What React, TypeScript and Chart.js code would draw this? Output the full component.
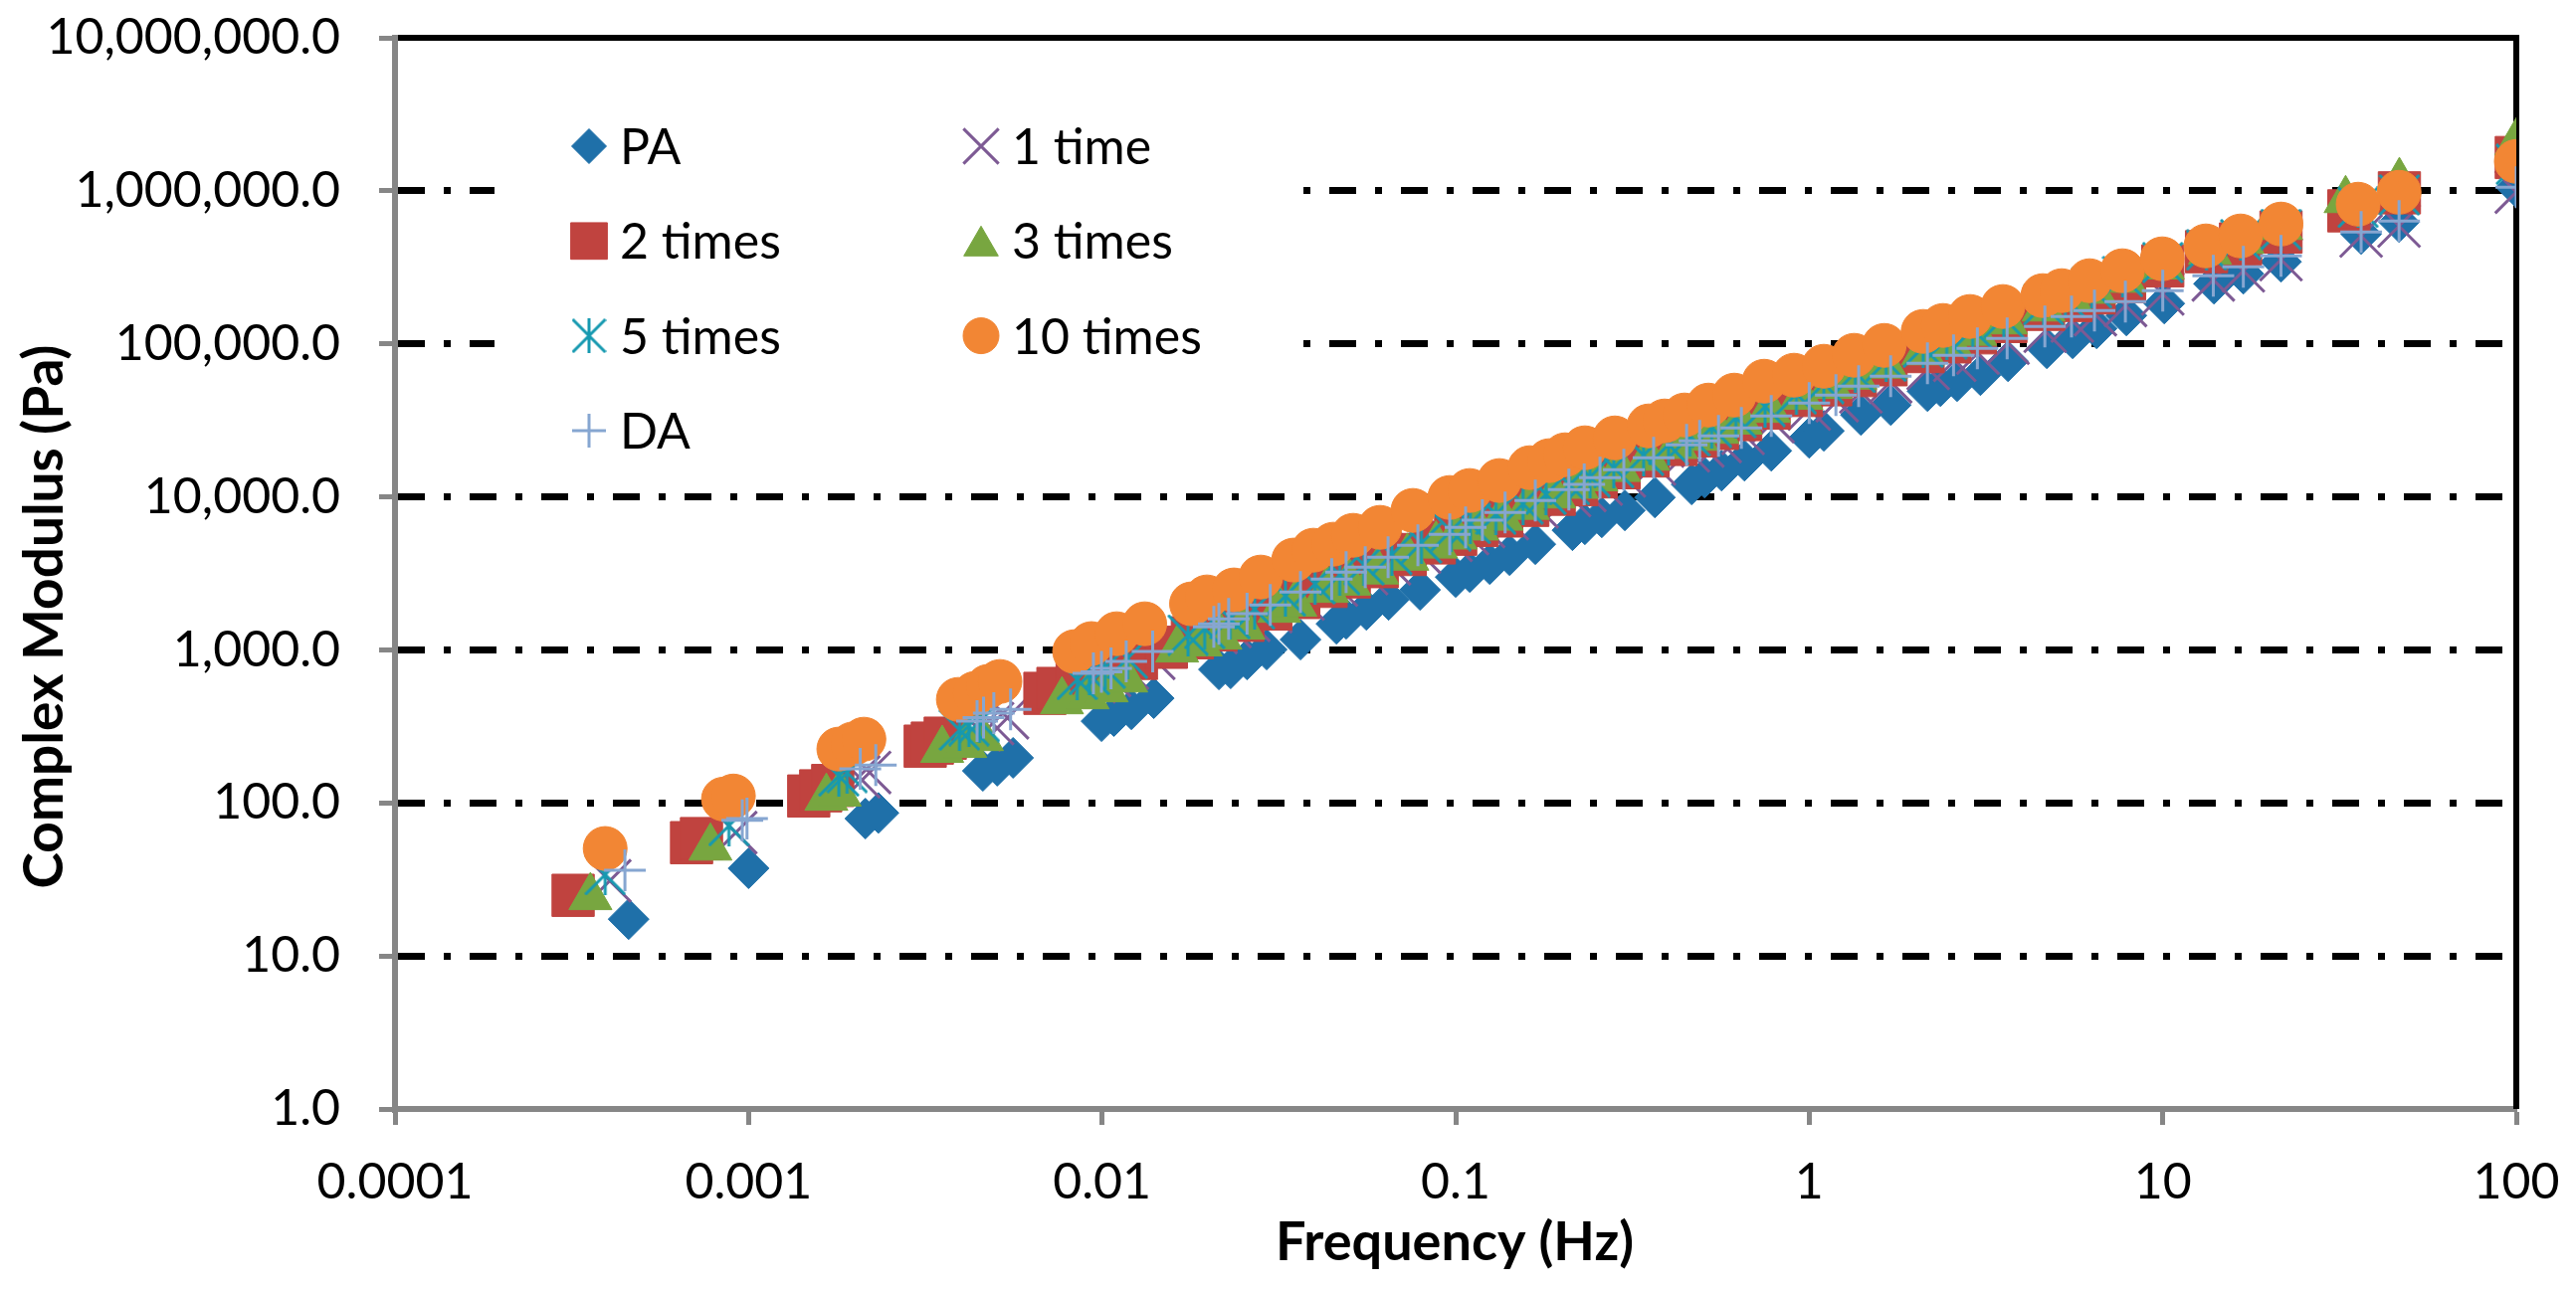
import { useEffect, useRef } from 'react';
import { Chart, registerables } from 'chart.js';
import { drawPoint } from 'chart.js/helpers';

Chart.register(...registerables);

// frequency (Hz) / complex modulus (Pa), one pair per series
const paFreq = [0.000458, 0.001, 0.00214, 0.00233, 0.0046, 0.00505, 0.0056, 0.00996, 0.0108, 0.0121, 0.014, 0.0214, 0.0231, 0.0257, 0.0292, 0.0364, 0.046, 0.049, 0.0559, 0.0646, 0.0793, 0.1, 0.1096, 0.1248, 0.142, 0.168, 0.214, 0.232, 0.259, 0.301, 0.366, 0.465, 0.506, 0.565, 0.656, 0.781, 1.0, 1.1, 1.4, 1.7, 2.16, 2.35, 2.62, 3.05, 3.65, 4.7, 5.56, 6.5, 7.89, 10.1, 13.96, 16.9, 21.6, 36.4, 46.6, 100];
const paG = [17.4, 37.4, 79, 86, 162, 175, 197, 342, 369, 409, 483, 745, 757, 865, 1005, 1167, 1482, 1597, 1827, 2122, 2466, 2993, 3228, 3638, 4162, 4908, 6052, 6620, 7350, 8160, 9910, 12050, 13370, 14850, 17230, 20000, 24300, 27000, 34300, 39800, 49100, 52900, 57000, 62400, 76900, 93500, 108600, 126200, 153200, 183400, 247000, 287000, 343600, 522000, 625000, 1055000];

const oneFreq = [0.000405, 0.00092, 0.00205, 0.0022, 0.0045, 0.0049, 0.0054, 0.0095, 0.0105, 0.0118, 0.014, 0.021, 0.023, 0.026, 0.03, 0.037, 0.046, 0.056, 0.065, 0.079, 0.097, 0.108, 0.12, 0.14, 0.17, 0.21, 0.232, 0.258, 0.3, 0.365, 0.455, 0.5, 0.56, 0.65, 0.79, 1.0, 1.2, 1.4, 1.7, 2.17, 2.58, 3.0, 3.65, 4.65, 5.55, 6.45, 7.85, 10.0, 13.9, 16.9, 21.6, 36.4, 46.6, 100];
const oneG = [31, 64, 148, 158, 300, 330, 360, 620, 680, 760, 880, 1300, 1420, 1560, 1780, 2150, 2650, 3150, 3650, 4350, 5200, 5750, 6400, 7200, 8600, 10200, 11000, 12100, 13700, 16400, 20000, 21500, 23000, 26000, 31000, 37500, 42500, 48500, 56500, 69000, 78000, 87000, 101000, 121000, 141000, 155000, 178000, 212000, 262000, 300000, 355000, 507000, 589000, 980000];

const twoFreq = [0.000319, 0.00069, 0.000736, 0.00148, 0.0016, 0.00173, 0.00316, 0.00331, 0.0036, 0.00689, 0.0075, 0.0085, 0.0098, 0.0125, 0.0152, 0.018, 0.021, 0.025, 0.03, 0.036, 0.043, 0.05, 0.06, 0.072, 0.087, 0.1, 0.115, 0.135, 0.16, 0.19, 0.22, 0.25, 0.29, 0.35, 0.42, 0.48, 0.55, 0.64, 0.77, 0.95, 1.15, 1.35, 1.65, 2.1, 2.5, 2.95, 3.6, 4.6, 5.5, 6.4, 7.8, 10.0, 13.3, 16.6, 21.6, 33.6, 46.7, 100];
const twoG = [24.9, 55, 58.5, 111, 120, 130, 235, 246, 265, 520, 560, 640, 700, 880, 1040, 1200, 1350, 1560, 1850, 2200, 2600, 3000, 3500, 4200, 5000, 5700, 6500, 7500, 8800, 10400, 12000, 13500, 15500, 18500, 22000, 25000, 28000, 32000, 38000, 46000, 54000, 62000, 73000, 89000, 103000, 118000, 140000, 168000, 192000, 215000, 255000, 323000, 400000, 450000, 538000, 740000, 970000, 1650000];

const threeFreq = [0.000357, 0.00078, 0.00166, 0.00181, 0.00353, 0.0041, 0.00457, 0.0077, 0.0091, 0.0103, 0.0117, 0.0163, 0.019, 0.0216, 0.0251, 0.0317, 0.0352, 0.0433, 0.05, 0.06, 0.073, 0.088, 0.1, 0.115, 0.135, 0.16, 0.19, 0.22, 0.25, 0.29, 0.35, 0.42, 0.48, 0.55, 0.64, 0.77, 0.95, 1.15, 1.35, 1.65, 2.1, 2.5, 2.95, 3.6, 4.6, 5.5, 6.4, 7.8, 10.0, 13.6, 16.8, 21.6, 32.9, 46.7, 100];
const threeG = [24.2, 51, 108, 115, 222, 239, 265, 461, 497, 552, 640, 1005, 1100, 1220, 1417, 1827, 2000, 2466, 2750, 3250, 4000, 4800, 5500, 6300, 7300, 8600, 10200, 11800, 13200, 15200, 18000, 21500, 24300, 27000, 31000, 37000, 45000, 53000, 61000, 72000, 88000, 102000, 118000, 140000, 170000, 196000, 222000, 262000, 320000, 400000, 470000, 580000, 869000, 1140000, 2070000];

const fiveFreq = [0.000393, 0.00088, 0.0018, 0.0019, 0.00395, 0.0042, 0.0045, 0.0085, 0.0092, 0.0102, 0.0118, 0.0175, 0.0195, 0.023, 0.027, 0.033, 0.04, 0.047, 0.055, 0.066, 0.08, 0.097, 0.11, 0.13, 0.155, 0.18, 0.21, 0.24, 0.28, 0.34, 0.4, 0.46, 0.53, 0.62, 0.75, 0.92, 1.1, 1.35, 1.65, 2.1, 2.45, 2.9, 3.55, 4.6, 5.3, 6.3, 7.7, 10.0, 13.3, 16.6, 21.6, 35.7, 46.7, 100];
const fiveG = [34, 71, 150, 158, 300, 320, 340, 640, 690, 760, 880, 1250, 1380, 1600, 1850, 2250, 2700, 3100, 3600, 4200, 5000, 6000, 6700, 7700, 9000, 10400, 12000, 13500, 15500, 18700, 22000, 25000, 28500, 33000, 39000, 47000, 55000, 65000, 77000, 95000, 108000, 125000, 148000, 180000, 200000, 232000, 275000, 340000, 410000, 480000, 560000, 780000, 940000, 1490000];

const tenFreq = [0.000393, 0.000849, 0.000906, 0.0018, 0.00197, 0.00212, 0.00392, 0.00437, 0.00476, 0.00514, 0.00836, 0.00933, 0.011, 0.0132, 0.0179, 0.0198, 0.0236, 0.0281, 0.0348, 0.0396, 0.0451, 0.0513, 0.0611, 0.0757, 0.0962, 0.1096, 0.133, 0.162, 0.184, 0.204, 0.232, 0.282, 0.352, 0.39, 0.444, 0.519, 0.614, 0.746, 0.906, 1.1, 1.34, 1.63, 2.1, 2.39, 2.85, 3.53, 4.58, 5.18, 6.21, 7.69, 9.97, 13.25, 16.6, 21.6, 35.7, 46.6, 100];
const tenG = [50.4, 106, 111, 225, 243, 261, 475, 520, 578, 622, 975, 1100, 1276, 1482, 2000, 2220, 2466, 2993, 3864, 4484, 4908, 5610, 6325, 8160, 9910, 11010, 12790, 15520, 17250, 18850, 20940, 24300, 29100, 31350, 34300, 39800, 46240, 57000, 62400, 71400, 84200, 97700, 120600, 131900, 151000, 175400, 206700, 222700, 258700, 300600, 359700, 436700, 507200, 606700, 818000, 979000, 1557000];

const daFreq = [0.000447, 0.00096, 0.00099, 0.00207, 0.00229, 0.00443, 0.00462, 0.00494, 0.00551, 0.00945, 0.00996, 0.0106, 0.0117, 0.0139, 0.0207, 0.0214, 0.0228, 0.0257, 0.0299, 0.0364, 0.0446, 0.049, 0.0555, 0.0644, 0.0782, 0.0962, 0.1067, 0.119, 0.138, 0.168, 0.209, 0.231, 0.256, 0.299, 0.363, 0.45, 0.49, 0.554, 0.643, 0.781, 1.0, 1.19, 1.38, 1.7, 2.16, 2.56, 2.99, 3.63, 4.64, 5.52, 6.41, 7.84, 10.0, 13.9, 16.9, 21.6, 36.4, 46.6, 100];
const daG = [36.3, 77, 79, 167, 177, 342, 361, 386, 409, 702, 718, 757, 840, 975, 1417, 1482, 1597, 1722, 1968, 2391, 2904, 3228, 3477, 4036, 4834, 5700, 6325, 7030, 7920, 9480, 11170, 12050, 13370, 15070, 18030, 21880, 23230, 25050, 28250, 33800, 41050, 46240, 52900, 61500, 74700, 84200, 93500, 108600, 130000, 151000, 165200, 188800, 222700, 278500, 319000, 375800, 538000, 634000, 1055000];

const xTicks = [0.0001, 0.001, 0.01, 0.1, 1, 10, 100];
const xTickLabels = ['0.0001', '0.001', '0.01', '0.1', '1', '10', '100'];
const yTicks = [1, 10, 100, 1000, 10000, 100000, 1000000, 10000000];
const yTickLabels = ['1.0', '10.0', '100.0', '1,000.0', '10,000.0', '100,000.0', '1,000,000.0', '10,000,000.0'];

const FONT = 'Lato, "Noto Sans", sans-serif';

function starCanvas(size: number, color: string) {
  const c = document.createElement('canvas');
  c.width = size;
  c.height = size;
  const g = c.getContext('2d')!;
  g.strokeStyle = color;
  g.lineWidth = 3;
  g.beginPath();
  g.moveTo(1, 1);
  g.lineTo(size - 1, size - 1);
  g.moveTo(size - 1, 1);
  g.lineTo(1, size - 1);
  g.moveTo(size / 2, 0);
  g.lineTo(size / 2, size);
  g.stroke();
  return c;
}

const toPoints = (xs: number[], ys: number[]) => xs.map((x, i) => ({ x, y: ys[i] }));

export default function App() {
  const canvasRef = useRef<HTMLCanvasElement>(null);
  const chartRef = useRef<Chart | null>(null);

  useEffect(() => {
    document.body.style.margin = '0';
    if (!canvasRef.current) return;
    if (chartRef.current) chartRef.current.destroy();
    const ctx = canvasRef.current.getContext('2d');
    if (!ctx) return;

    const teal = '#1699B0';
    const series = [
      { label: 'PA', xs: paFreq, ys: paG, color: '#1F70A9', style: 'rectRot', r: 20.5, lr: 17.5, line: false },
      { label: '1 time', xs: oneFreq, ys: oneG, color: '#7D5A94', style: 'crossRot', r: 30, lr: 25, line: true },
      { label: '2 times', xs: twoFreq, ys: twoG, color: '#C0433F', style: 'rect', r: 30, lr: 26, line: false },
      { label: '3 times', xs: threeFreq, ys: threeG, color: '#78A640', style: 'triangle', r: 25, lr: 20, line: false },
      { label: '5 times', xs: fiveFreq, ys: fiveG, color: teal, style: starCanvas(42, teal), r: 21, lr: 0, line: true },
      { label: '10 times', xs: tenFreq, ys: tenG, color: '#F28634', style: 'circle', r: 22, lr: 18, line: false },
      { label: 'DA', xs: daFreq, ys: daG, color: '#86A6D1', style: 'cross', r: 21, lr: 17, line: true },
    ];
    const legendStar = starCanvas(35, teal);

    const decor = {
      id: 'decor',
      beforeDatasetsDraw(chart: Chart) {
        const { ctx: c, chartArea: a } = chart;
        c.save();
        // legend sits on a white box that hides the grid lines behind it
        c.fillStyle = '#fff';
        c.fillRect(497, 95, 804, 385);
        c.font = `50px ${FONT}`;
        c.textBaseline = 'middle';
        c.textAlign = 'left';
        series.forEach((s, i) => {
          const col = i % 2;
          const row = Math.floor(i / 2);
          const mx = 592 + col * 394;
          const my = 147 + row * 95.3;
          c.fillStyle = s.color;
          c.strokeStyle = s.color;
          c.lineWidth = s.line ? 3 : 1;
          const style = s.label === '5 times' ? legendStar : s.style;
          const dy = s.style === 'triangle' ? s.lr / 4 : 0;
          drawPoint(c, { pointStyle: style as any, rotation: 0, radius: s.lr, borderWidth: s.line ? 3 : 1 }, mx, my + dy);
          c.fillStyle = '#000';
          c.fillText(s.label, mx + 31, my + 2);
        });
        // black frame on top and right
        c.strokeStyle = '#000';
        c.lineWidth = 6;
        c.beginPath();
        c.moveTo(a.left + 3, a.top);
        c.lineTo(a.right, a.top);
        c.lineTo(a.right, a.bottom);
        c.stroke();
        c.restore();
      },
      afterDraw(chart: Chart) {
        const c = chart.ctx;
        c.save();
        c.fillStyle = '#000';
        c.textAlign = 'center';
        c.textBaseline = 'middle';
        c.font = `bold 54px ${FONT}`;
        c.fillText('Frequency (Hz)', 1462, 1250);
        c.font = `bold 55px ${FONT}`;
        c.translate(45, 620);
        c.rotate(-Math.PI / 2);
        c.fillText('Complex Modulus (Pa)', 0, 0);
        c.restore();
      },
    };

    chartRef.current = new Chart(ctx, {
      type: 'scatter',
      data: {
        datasets: series.map((s, i) => ({
          label: s.label,
          data: toPoints(s.xs, s.ys),
          pointStyle: s.style as any,
          pointRadius: s.r,
          pointHoverRadius: s.r,
          backgroundColor: s.color,
          borderColor: s.color,
          borderWidth: s.line ? 3 : 1,
          order: series.length - i,
        })),
      },
      options: {
        animation: false,
        responsive: false,
        devicePixelRatio: 1,
        events: [],
        layout: { padding: { top: 38, right: 60, bottom: 0, left: 0 } },
        plugins: { legend: { display: false }, tooltip: { enabled: false } },
        scales: {
          x: {
            type: 'logarithmic',
            min: 0.0001,
            max: 100,
            afterBuildTicks: (s: any) => {
              s.ticks = xTicks.map((v) => ({ value: v }));
            },
            afterFit: (s: any) => {
              s.height = 181;
              s.paddingLeft = 0;
              s.paddingRight = 0;
            },
            ticks: {
              autoSkip: false,
              maxRotation: 0,
              padding: 28,
              color: '#000',
              font: { family: FONT, size: 50 },
              callback: (_v: any, i: number) => xTickLabels[i],
            },
            grid: {
              drawOnChartArea: false,
              drawTicks: true,
              tickLength: 16,
              tickColor: '#868686',
              tickWidth: 5,
            },
            border: { color: '#868686', width: 6 },
          },
          y: {
            type: 'logarithmic',
            min: 1,
            max: 10000000,
            afterBuildTicks: (s: any) => {
              s.ticks = yTicks.map((v) => ({ value: v }));
            },
            afterFit: (s: any) => {
              s.width = 397;
              s.paddingTop = 0;
              s.paddingBottom = 0;
            },
            ticks: {
              padding: 39,
              color: '#000',
              font: { family: FONT, size: 50 },
              callback: (_v: any, i: number) => yTickLabels[i],
            },
            grid: {
              color: (c: any) =>
                c.tick && (c.tick.value <= 1 || c.tick.value >= 10000000) ? 'rgba(0,0,0,0)' : '#000',
              lineWidth: 7,
              drawTicks: true,
              tickLength: 16,
              tickColor: '#868686',
              tickWidth: 5,
              tickBorderDash: [],
            },
            // in Chart.js 4 the dash of the grid lines lives under border
            border: { color: '#868686', width: 6, dash: [27, 19, 7, 19] },
          },
        },
      },
      plugins: [decor],
    });

    return () => chartRef.current?.destroy();
  }, []);

  return (
    <div style={{ width: 2589, height: 1296 }}>
      <canvas ref={canvasRef} width={2589} height={1296} style={{ display: 'block' }} />
    </div>
  );
}
